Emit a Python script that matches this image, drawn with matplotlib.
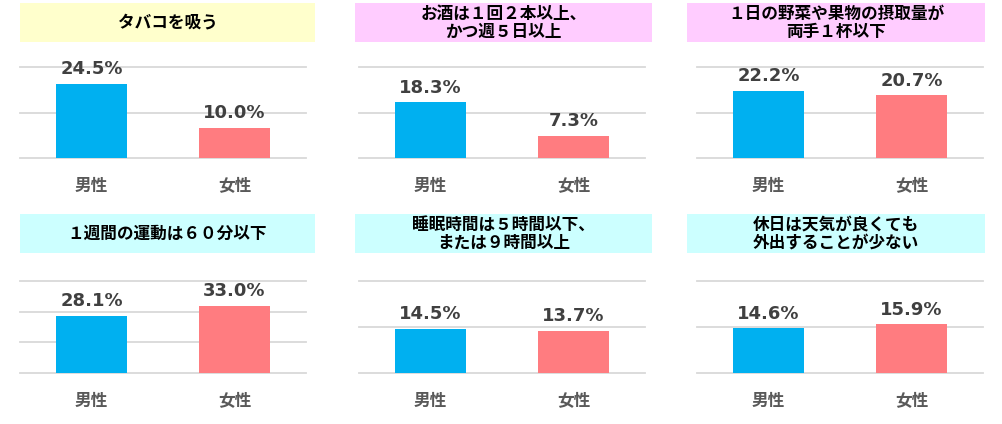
import matplotlib
matplotlib.use("Agg")
import matplotlib.pyplot as plt
from matplotlib.patches import Rectangle

plt.rcParams["font.family"] = ["DejaVu Sans", "Noto Sans CJK JP"]

# data
categories = ["男性", "女性"]
titles = [
    "タバコを吸う",
    "お酒は１回２本以上、\nかつ週５日以上",
    "１日の野菜や果物の摂取量が\n両手１杯以下",
    "１週間の運動は６０分以下",
    "睡眠時間は５時間以下、\nまたは９時間以上",
    "休日は天気が良くても\n外出することが少ない",
]
male = [24.5, 18.3, 22.2, 28.1, 14.5, 14.6]
female = [10.0, 7.3, 20.7, 33.0, 13.7, 15.9]
y_max = [30, 30, 30, 45, 30, 30]
box_colors = ["#FFFFCC", "#FFCCFF", "#FFCCFF", "#CCFFFF", "#CCFFFF", "#CCFFFF"]

BAR_COLORS = ["#00B0F0", "#FF7C80"]
W, H = 1003, 424

fig = plt.figure(figsize=(W / 100, H / 100), dpi=100)

ax_left = [20, 359, 697]
box_x = [(20, 315), (355, 652), (687, 985)]
row_axes = [(67, 158), (281, 373)]
row_box = [(3, 42), (214, 253)]

for i in range(6):
    r, c = divmod(i, 3)
    top, bot = row_axes[r]
    ax = fig.add_axes([ax_left[c] / W, 1 - bot / H, 286 / W, (bot - top) / H])
    vals = [male[i], female[i]]
    ax.bar([0, 1], vals, width=0.5, color=BAR_COLORS, zorder=3)
    ax.set_xlim(-0.5, 1.5)
    ax.set_ylim(0, y_max[i])
    for g in range(0, y_max[i] + 1, 15):
        ax.axhline(g, color="#D9D9D9", lw=1.3, zorder=1, clip_on=False)
    for x, v in zip([0, 1], vals):
        ax.annotate(f"{v:.1f}%", (x, v), xytext=(0, 4), textcoords="offset points",
                    ha="center", va="bottom", fontsize=13, fontweight="bold",
                    color="#404040")
    ax.set_xticks([0, 1])
    ax.set_xticklabels(categories, fontsize=12, fontweight="bold", color="#595959")
    ax.tick_params(axis="x", length=0, pad=14)
    ax.set_yticks([])
    for s in ax.spines.values():
        s.set_visible(False)

    # title box
    x0, x1 = box_x[c]
    y0, y1 = row_box[r]
    fig.patches.append(Rectangle((x0 / W, 1 - y1 / H), (x1 - x0) / W, (y1 - y0) / H,
                                 transform=fig.transFigure, facecolor=box_colors[i],
                                 edgecolor="none", zorder=0))
    fig.text((x0 + x1) / 2 / W, 1 - (y0 + y1) / 2 / H, titles[i], ha="center",
             va="center", fontsize=12, fontweight="bold", color="#000000",
             linespacing=1.0)

fig.savefig("out.png", dpi=100)
